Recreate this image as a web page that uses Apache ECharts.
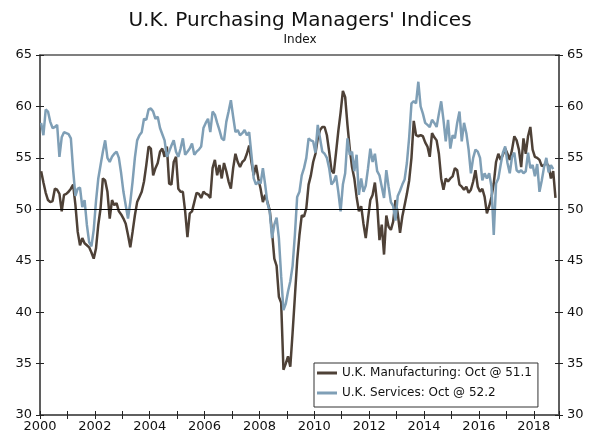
<!DOCTYPE html>
<html>
<head>
<meta charset="utf-8">
<script src="https://cdn.jsdelivr.net/npm/echarts@6/dist/echarts.min.js"></script>
<style>
  html, body { margin: 0; padding: 0; background: #fff; }
  #chart { width: 600px; height: 441px; }
</style>
</head>
<body>
<div id="chart"></div>
<script>
// monthly index values, Jan 2000 onward
const startYear = 2000;

const mfgValues = [
  53.7, 52.6, 51.6, 50.9, 50.7, 50.8, 52.0, 51.9, 51.5, 49.8,
  51.4, 51.5, 51.7, 52.0, 52.4, 50.4, 47.8, 46.5, 47.2, 46.7,
  46.5, 46.3, 45.8, 45.2, 46.2, 48.5, 50.1, 53.0, 52.8, 51.7,
  49.1, 50.9, 50.4, 50.6, 49.8, 49.5, 49.1, 48.6, 47.5, 46.3,
  47.8, 49.4, 50.7, 51.2, 51.7, 52.7, 54.3, 56.1, 55.9, 53.3,
  54.0, 54.5, 55.6, 55.9, 55.1, 56.1, 52.5, 52.4, 54.6, 55.1,
  52.0, 51.7, 51.7, 49.8, 47.3, 49.6, 49.8, 50.7, 51.6, 51.5,
  51.1, 51.7, 51.5, 51.4, 51.1, 54.0, 54.8, 53.3, 54.3, 53.0,
  54.5, 53.7, 52.7, 52.0, 54.0, 55.4, 54.6, 54.1, 54.6, 54.8,
  55.4, 56.2, 54.6, 53.3, 54.3, 53.0, 52.0, 50.7, 51.4, 50.7,
  49.9, 47.8, 45.2, 44.5, 41.5, 40.9, 34.4, 35.0, 35.7, 34.7,
  38.0, 41.5, 45.0, 47.5, 49.4, 49.3, 50.1, 52.4, 53.3, 54.6,
  55.4, 56.9, 57.7, 58.0, 58.0, 57.2, 55.6, 53.8, 53.5, 55.5,
  57.6, 59.4, 61.5, 60.9, 58.2, 55.9, 54.1, 53.0, 51.2, 49.8,
  50.3, 48.6, 47.2, 49.1, 50.9, 51.4, 52.6, 50.5, 47.0, 48.5,
  45.6, 49.4, 48.3, 48.0, 48.8, 50.9, 49.6, 47.7, 49.3, 50.4,
  51.5, 52.8, 55.0, 58.6, 57.2, 57.1, 57.2, 57.1, 56.5, 56.1,
  55.1, 57.4, 57.0, 56.7, 55.4, 53.0, 51.9, 53.0, 52.7, 53.0,
  53.2, 54.0, 53.8, 52.4, 52.2, 51.9, 52.2, 51.6, 51.9, 52.7,
  53.8, 52.2, 51.7, 52.0, 51.2, 49.6, 50.3, 51.2, 52.5, 54.6,
  55.4, 54.8, 55.3, 55.9, 55.4, 54.8, 55.8, 57.1, 56.7, 55.8,
  54.1, 56.9, 55.4, 57.1, 58.0, 55.8, 55.1, 55.0, 54.8, 54.2,
  54.3, 54.5, 54.2, 53.0, 53.7, 51.1
];

const svcValues = [
  58.4, 57.2, 59.7, 59.5, 58.5, 57.9, 58.0, 58.2, 55.1, 57.0,
  57.5, 57.4, 57.3, 56.9, 53.8, 51.3, 52.0, 52.1, 50.2, 50.9,
  48.5, 46.8, 46.4, 48.0, 50.8, 53.0, 54.3, 55.6, 56.7, 55.0,
  54.6, 55.1, 55.4, 55.6, 55.0, 53.5, 51.7, 50.4, 49.1, 50.7,
  52.7, 55.0, 56.7, 57.2, 57.5, 58.8, 58.7, 59.7, 59.8, 59.5,
  58.8, 59.0, 57.9, 57.3, 56.7, 55.1, 55.6, 56.2, 56.7, 55.6,
  55.1, 55.9, 56.9, 55.3, 55.6, 55.9, 56.4, 55.3, 55.6, 55.8,
  56.1, 57.9, 58.4, 58.8, 57.5, 59.5, 59.2, 58.4, 57.7, 56.9,
  56.7, 58.5, 59.5, 60.6, 59.0, 57.5, 57.7, 57.2, 57.4, 57.7,
  57.2, 57.5, 55.3, 53.0, 52.4, 52.7, 52.5, 54.0, 52.4, 50.6,
  49.8, 47.2, 48.5, 49.2, 47.2, 43.5, 40.2, 40.8, 42.0, 43.0,
  44.5, 47.5, 51.2, 51.7, 53.3, 54.0, 55.0, 56.9, 56.7, 56.6,
  55.5, 58.2, 56.9, 55.6, 55.4, 55.0, 54.0, 52.4, 52.7, 53.3,
  51.7, 49.8, 52.4, 53.5, 56.9, 55.3, 55.6, 53.7, 55.3, 51.4,
  53.0, 51.7, 52.3, 54.0, 55.9, 54.6, 55.4, 53.7, 53.3, 52.2,
  51.1, 53.8, 52.2, 50.7, 50.3, 48.9, 51.3, 51.8, 52.4, 52.9,
  54.5, 57.0, 60.3, 60.5, 60.3, 62.4, 60.0, 59.3, 58.4, 58.2,
  58.0, 58.7, 58.4, 58.0, 59.3, 60.5, 58.7, 56.6, 58.7, 55.9,
  57.2, 56.9, 58.4, 59.5, 56.6, 58.4, 57.4, 55.8, 53.5, 55.0,
  55.8, 55.6, 55.0, 52.8, 53.5, 53.0, 53.5, 52.2, 47.5, 52.5,
  53.0, 54.3, 55.5, 56.1, 54.5, 53.5, 55.1, 55.5, 53.8, 53.6,
  53.8, 53.5, 53.7, 55.5, 54.0, 54.3, 53.2, 54.4, 51.7, 52.8,
  54.1, 55.0, 53.6, 54.3, 53.9
];

const seriesNames = ['U.K. Manufacturing: Oct @ 51.1', 'U.K. Services: Oct @ 52.2'];
const yTicks = { min: 30, max: 65, step: 5 };
const xRange = { min: 2000, max: 2018.92 };
const refLevel = 50;

// month i is drawn mid-month
function toPoints(values) {
  return values.map((v, i) => [startYear + (i + 0.5) / 12, v]);
}

const font = 'DejaVu Sans';
const axisColor = '#555';

function yAxis(position, withLabels, inside) {
  return {
    type: 'value',
    position: position,
    min: yTicks.min,
    max: yTicks.max,
    interval: yTicks.step,
    axisLine: { show: withLabels, lineStyle: { color: axisColor, width: 1.5 } },
    axisTick: { show: true, inside: inside, length: 4, lineStyle: { color: '#222', width: 1 } },
    axisLabel: { show: withLabels, color: '#111', fontSize: 13, fontFamily: font, margin: 8 },
    splitLine: { show: false }
  };
}

function xAxis(withLabels, inside) {
  return {
    type: 'value',
    position: 'bottom',
    min: xRange.min,
    max: xRange.max,
    interval: 1,
    axisLine: { show: withLabels, onZero: false, lineStyle: { color: axisColor, width: 1.5 } },
    axisTick: { show: true, inside: inside, length: 4, lineStyle: { color: '#222', width: 1 } },
    axisLabel: {
      show: withLabels,
      color: '#111',
      fontSize: 13,
      fontFamily: font,
      margin: 5,
      formatter: function (v) {
        return (Number.isInteger(v) && v % 2 === 0) ? String(v) : '';
      }
    },
    splitLine: { show: false }
  };
}

const chart = echarts.init(document.getElementById('chart'));

chart.setOption({
  animation: false,
  backgroundColor: '#fff',
  title: {
    text: "U.K. Purchasing Managers' Indices",
    subtext: 'Index',
    left: 'center',
    top: 6,
    itemGap: 3,
    textStyle: { fontFamily: font, fontSize: 20, fontWeight: 'normal', color: '#111' },
    subtextStyle: { fontFamily: font, fontSize: 12, color: '#111' }
  },
  grid: {
    left: 40,
    right: 41,
    top: 55,
    bottom: 26,
    show: true,
    borderColor: axisColor,
    borderWidth: 1.5,
    backgroundColor: 'transparent'
  },
  legend: {
    orient: 'vertical',
    left: 314,
    top: 363,
    padding: [4, 6, 8, 3],
    itemGap: 8,
    itemWidth: 20,
    itemHeight: 3,
    icon: 'rect',
    backgroundColor: '#fff',
    borderColor: '#333',
    borderWidth: 1,
    textStyle: { fontFamily: font, fontSize: 12, color: '#111' },
    data: seriesNames
  },
  xAxis: [xAxis(true, false), xAxis(false, true)],
  yAxis: [
    yAxis('left', true, false),
    yAxis('left', false, true),
    yAxis('right', true, false),
    yAxis('right', false, true)
  ],
  series: [
    {
      name: seriesNames[0],
      type: 'line',
      data: toPoints(mfgValues),
      showSymbol: false,
      symbol: 'none',
      lineStyle: { color: '#4e4137', width: 2.5 },
      itemStyle: { color: '#4e4137' },
      markLine: {
        silent: true,
        symbol: 'none',
        label: { show: false },
        lineStyle: { color: '#000', width: 1, type: 'solid' },
        data: [{ yAxis: refLevel }]
      },
      z: 2
    },
    {
      name: seriesNames[1],
      type: 'line',
      data: toPoints(svcValues),
      showSymbol: false,
      symbol: 'none',
      lineStyle: { color: '#7f9fb6', width: 2.5 },
      itemStyle: { color: '#7f9fb6' },
      z: 3
    }
  ]
});
</script>
</body>
</html>
